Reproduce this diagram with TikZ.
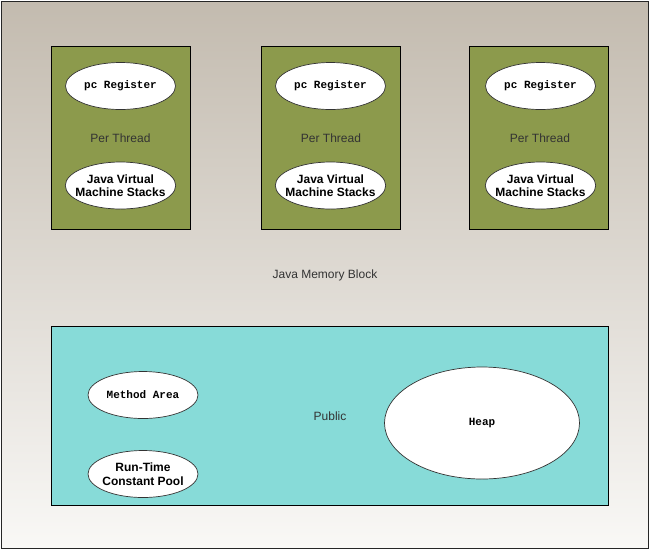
\documentclass[tikz,border=0pt]{standalone}
\usepackage{fontspec}
\setmainfont{Liberation Sans}
\newfontfamily\monobold{Liberation Mono}
\usepackage{tikz}
\usetikzlibrary{shapes.geometric}
\definecolor{ThreadGreen}{RGB}{140,154,76}
\definecolor{PublicCyan}{RGB}{135,219,216}
\definecolor{BlockTop}{RGB}{195,187,175}
\definecolor{BlockBottom}{RGB}{249,248,246}
\definecolor{LabelGray}{RGB}{51,51,51}

\begin{document}
\begin{tikzpicture}[x=1pt, y=-1pt,
  every node/.style={font=\fontsize{12}{13}\selectfont, align=center, text=LabelGray},
  thread/.style={draw=black, line width=0.8pt, fill=ThreadGreen, minimum width=139pt, minimum height=183pt, inner sep=0pt},
  pool/.style={draw=black, line width=0.8pt, fill=PublicCyan, minimum width=557pt, minimum height=179pt, inner sep=0pt},
  area/.style={ellipse, draw=black!80, line width=0.7pt, fill=white, minimum width=110pt, minimum height=47pt, inner sep=0pt, text=black},
  monolbl/.style={font=\monobold\fontsize{11}{12}\selectfont\bfseries},
  boldlbl/.style={font=\fontsize{12}{13.5}\selectfont\bfseries, inner xsep=-6pt}
]
\useasboundingbox (0,0) rectangle (650,550);
\shade[top color=BlockTop, bottom color=BlockBottom, draw=black!85, line width=0.8pt] (1,1) rectangle (648,548);

\node (block) at (325,275) {Java Memory Block};

\node[thread] (thread1) at (120.5,137.5) {};
\node[thread] (thread2) at (330.5,137.5) {};
\node[thread] (thread3) at (538.5,137.5) {};

\node[area, monolbl] (pc1) at (120.5,86) {pc Register};
\node[area, monolbl] (pc2) at (330.5,86) {pc Register};
\node[area, monolbl] (pc3) at (540.5,86) {pc Register};

\node (per1) at (120.5,138) {Per Thread};
\node (per2) at (331,138) {Per Thread};
\node (per3) at (540,138) {Per Thread};

\node[area, boldlbl] (stack1) at (120.5,185.5) {Java Virtual\\Machine Stacks};
\node[area, boldlbl] (stack2) at (330.5,185.5) {Java Virtual\\Machine Stacks};
\node[area, boldlbl] (stack3) at (540.5,185.5) {Java Virtual\\Machine Stacks};

\node[pool] (public) at (329.5,415.5) {};
\node (publbl) at (330,416) {Public};

\node[area, monolbl] (method) at (143,395) {Method Area};
\node[area, boldlbl] (constpool) at (143,474) {Run-Time\\Constant Pool};
\node[area, monolbl, minimum width=195pt, minimum height=112pt] (heap) at (482,423) {Heap};
\end{tikzpicture}
\end{document}
